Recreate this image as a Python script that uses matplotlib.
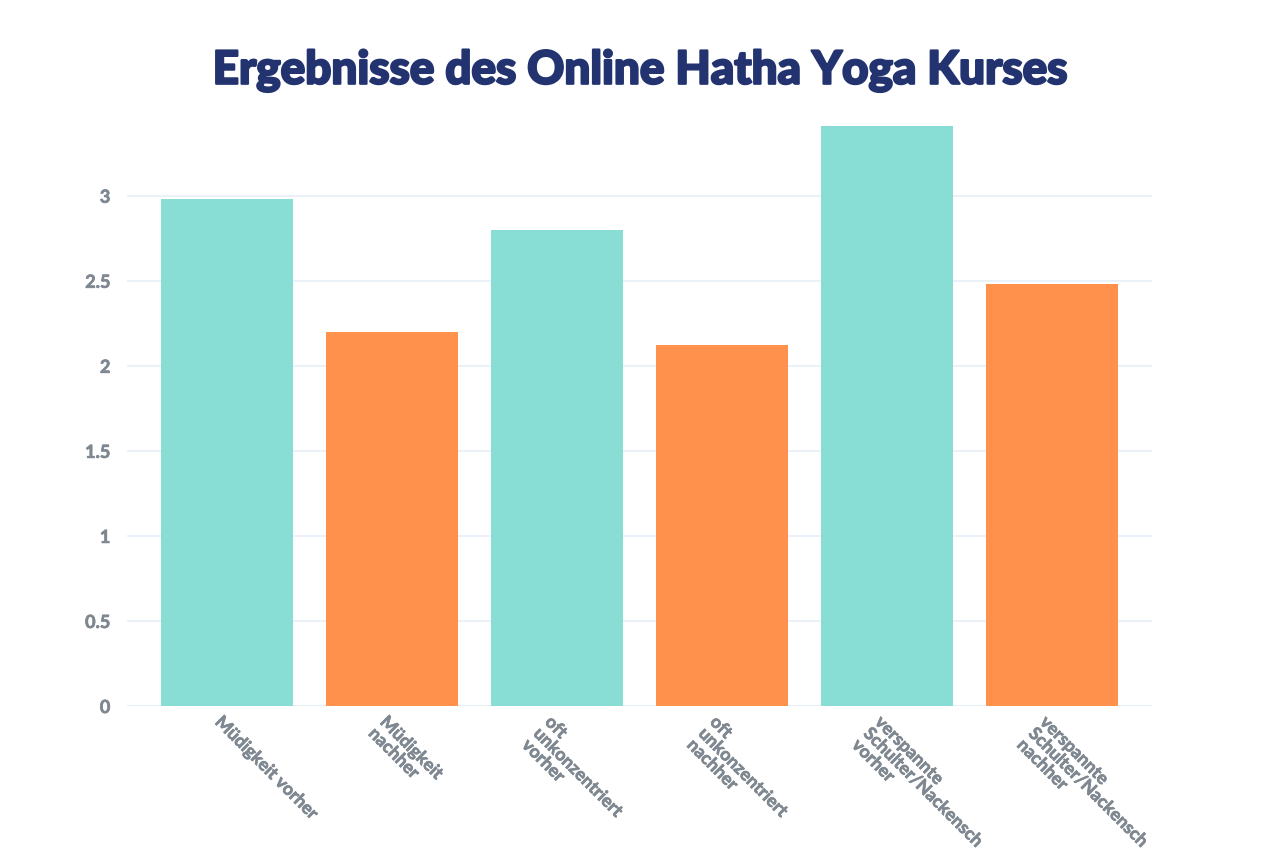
import matplotlib
matplotlib.use("Agg")
import matplotlib.pyplot as plt
import matplotlib.transforms as mtransforms
import matplotlib.patheffects as pe

# data
categories = [
    "Müdigkeit vorher",
    "Müdigkeit\nnachher",
    "oft\nunkonzentriert\nvorher",
    "oft\nunkonzentriert\nnachher",
    "verspannte\nSchulter/Nackensch\nvorher",
    "verspannte\nSchulter/Nackensch\nnachher",
]
values = [2.98, 2.20, 2.80, 2.12, 3.41, 2.48]
bar_colors = ["#88DED5", "#FF914D", "#88DED5", "#FF914D", "#88DED5", "#FF914D"]
y_ticks = [0, 0.5, 1, 1.5, 2, 2.5, 3]
y_tick_labels = ["0", "0.5", "1", "1.5", "2", "2.5", "3"]

title_color = "#223370"
label_color = "#7F8891"
grid_color = "#E8EFF7"
fonts = ["Lato", "DejaVu Sans"]
thicken = [pe.withStroke(linewidth=0.5, foreground=label_color)]

fig = plt.figure(figsize=(12.8, 8.53), dpi=100)
ax = fig.add_axes([127 / 1280, 1 - 707 / 853, (1152 - 127) / 1280, (707 - 127) / 853])

x = list(range(len(categories)))
ax.bar(x, values, width=0.8, color=bar_colors, zorder=2)

ax.set_xlim(-0.606, 5.606)
ax.set_ylim(0, 3.41)
ax.set_yticks(y_ticks)
ax.set_yticklabels(y_tick_labels, fontsize=13, fontweight="bold",
                   color=label_color, family=fonts)
for t in ax.get_yticklabels():
    t.set_path_effects(thicken)
ax.tick_params(axis="y", length=0, pad=12)
ax.set_xticks([])
ax.grid(axis="y", color=grid_color, linewidth=1.2, zorder=0)
ax.axhline(0, color=grid_color, linewidth=1.5, zorder=1)
for s in ax.spines.values():
    s.set_visible(False)

# rotated category labels, anchored near each bar centre
trans = mtransforms.blended_transform_factory(ax.transData, ax.transAxes)
offset = mtransforms.ScaledTranslation(-3 / 100, -7 / 100, fig.dpi_scale_trans)
for xi, lab in zip(x, categories):
    ax.text(xi, 0, lab, transform=trans + offset, rotation=-45,
            rotation_mode="anchor", ha="left", va="top",
            multialignment="left", fontsize=12.8, fontweight="bold",
            color=label_color, family=fonts, linespacing=0.95,
            clip_on=False, path_effects=thicken)

fig.text(0.5, 1 - 72 / 853, "Ergebnisse des Online Hatha Yoga Kurses",
         ha="center", va="center", fontsize=33, fontweight="black",
         color=title_color, family=fonts,
         path_effects=[pe.withStroke(linewidth=1.6, foreground=title_color)])

fig.savefig("out.png", dpi=100)
